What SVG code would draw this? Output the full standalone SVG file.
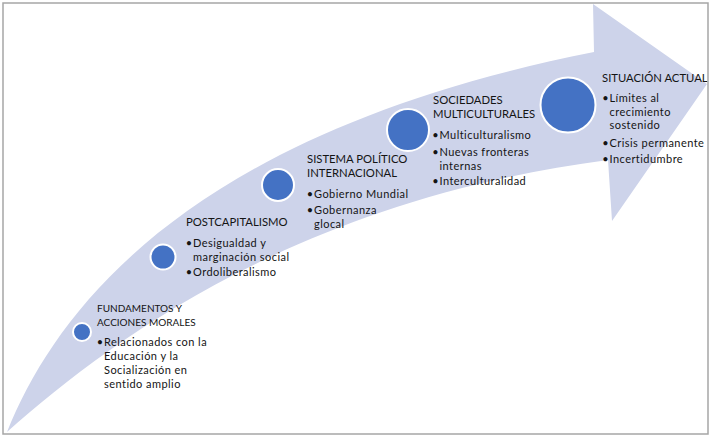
<svg xmlns="http://www.w3.org/2000/svg" width="711" height="440" viewBox="0 0 711 440">
<style>
.t{font-family:Lato,"Liberation Sans",sans-serif;font-size:11px;letter-spacing:0.45px;fill:#141414}
.h{font-family:Lato,"Liberation Sans",sans-serif;font-size:11.3px;fill:#141414}
.hs{font-family:Lato,"Liberation Sans",sans-serif;font-size:10px;fill:#141414}
.b{font-family:Lato,"Liberation Sans",sans-serif;font-size:11px;fill:#141414;text-anchor:middle}
.dot{fill:#4472c4;stroke:#ffffff;stroke-width:2}
</style>
<rect x="0" y="0" width="711" height="440" fill="#ffffff"/>
<g id="timeline-arrow">
<path d="M7,432 C60,300 200,130 594,52 L593,4 L707,84 L612,221 L608,160 C300,200 110,340 7,432 Z" fill="#cdd3ea"/>
</g>
<g id="connectors"></g>
<g id="node-fundamentos">
<circle class="dot" cx="82" cy="332" r="9"/>
<text class="hs" x="97" y="312">FUNDAMENTOS Y</text>
<text class="hs" x="97" y="326">ACCIONES MORALES</text>
<text class="b" x="100" y="346">•</text>
<text class="t" x="104" y="346">Relacionados con la</text>
<text class="t" x="104" y="360">Educación y la</text>
<text class="t" x="104" y="374">Socialización en</text>
<text class="t" x="104" y="388">sentido amplio</text>
</g>
<g id="node-postcapitalismo">
<circle class="dot" cx="163" cy="257" r="12.5"/>
<text class="h" x="186" y="226">POSTCAPITALISMO</text>
<text class="b" x="189" y="247">•</text>
<text class="t" x="193" y="247">Desigualdad y</text>
<text class="t" x="193" y="260.5">marginación social</text>
<text class="b" x="189" y="276">•</text>
<text class="t" x="193" y="276">Ordoliberalismo</text>
</g>
<g id="node-sistema">
<circle class="dot" cx="278" cy="185" r="16"/>
<text class="h" x="307" y="163">SISTEMA POLÍTICO</text>
<text class="h" x="307" y="177">INTERNACIONAL</text>
<text class="b" x="310" y="198">•</text>
<text class="t" x="314" y="198">Gobierno Mundial</text>
<text class="b" x="310" y="214">•</text>
<text class="t" x="314" y="214">Gobernanza</text>
<text class="t" x="314" y="227.5">glocal</text>
</g>
<g id="node-sociedades">
<circle class="dot" cx="408" cy="130" r="21"/>
<text class="h" x="433" y="104">SOCIEDADES</text>
<text class="h" x="433" y="118">MULTICULTURALES</text>
<text class="b" x="435.5" y="139">•</text>
<text class="t" x="439.5" y="139">Multiculturalismo</text>
<text class="b" x="435.5" y="156">•</text>
<text class="t" x="439.5" y="156">Nuevas fronteras</text>
<text class="t" x="439.5" y="169.5">internas</text>
<text class="b" x="435.5" y="185">•</text>
<text class="t" x="439.5" y="185">Interculturalidad</text>
</g>
<g id="node-situacion">
<circle class="dot" cx="568" cy="105" r="27.5"/>
<text class="h" x="602" y="82">SITUACIÓN ACTUAL</text>
<text class="b" x="605.5" y="102">•</text>
<text class="t" x="609.5" y="102">Límites al</text>
<text class="t" x="609.5" y="115.5">crecimiento</text>
<text class="t" x="609.5" y="129">sostenido</text>
<text class="b" x="605.5" y="147">•</text>
<text class="t" x="609.5" y="147">Crisis permanente</text>
<text class="b" x="605.5" y="163">•</text>
<text class="t" x="609.5" y="163">Incertidumbre</text>
</g>
<rect x="3" y="3" width="705" height="431" fill="none" stroke="#a6a6a6" stroke-width="1.5"/>
</svg>
